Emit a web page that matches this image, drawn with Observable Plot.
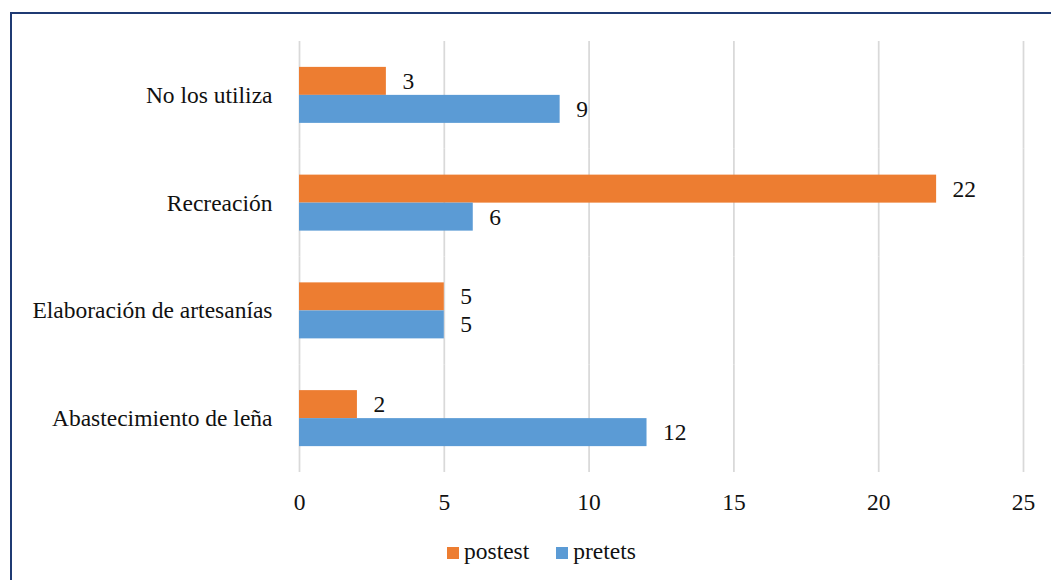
<!DOCTYPE html>
<html>
<head>
<meta charset="utf-8">
<script src="https://cdn.jsdelivr.net/npm/d3@7"></script>
<script src="https://cdn.jsdelivr.net/npm/@observablehq/plot@0.6"></script>
<style>
  html, body { margin: 0; padding: 0; background: #fff; }
  #wrap { position: relative; width: 1051px; height: 580px; overflow: hidden; background: #fff; }
  #frame { position: absolute; left: 10px; top: 12px; width: 1200px; height: 700px; border-left: 2px solid #1f3a73; border-top: 2px solid #1f3a73; }
  #chart { position: absolute; left: 0; top: 0; }
  #legend { position: absolute; left: 447px; top: 538px; height: 26px; line-height: 26px; font-family: "Times New Roman", Times, "Liberation Serif", "Nimbus Roman", "Noto Serif", "DejaVu Serif", FreeSerif, serif; font-size: 23.5px; color: #111; white-space: nowrap; }
  #legend .item { display: inline-block; margin-right: 27px; }
  #legend .sw { display: inline-block; width: 12px; height: 12px; margin-right: 5px; vertical-align: middle; position: relative; top: -1px; }
  #chart svg text { font-family: "Times New Roman", Times, "Liberation Serif", "Nimbus Roman", "Noto Serif", "DejaVu Serif", FreeSerif, serif !important; }
</style>
</head>
<body>
<div id="wrap">
  <div id="frame"></div>
  <div id="chart"></div>
  <div id="legend"></div>
</div>
<script>
const categories = ["No los utiliza", "Recreación", "Elaboración de artesanías", "Abastecimiento de leña"];
const series = ["postest", "pretets"];
const postest = [3, 22, 5, 2];
const pretets = [9, 6, 5, 12];
const colors = ["#ED7D31", "#5B9BD5"];
const xTicks = [0, 5, 10, 15, 20, 25];

const data = [];
categories.forEach((c, i) => {
  data.push({cat: c, series: "postest", value: postest[i]});
  data.push({cat: c, series: "pretets", value: pretets[i]});
});

const chart = Plot.plot({
  width: 1051,
  height: 520,
  marginTop: 41,
  marginBottom: 48,
  marginLeft: 299,
  marginRight: 28,
  style: {fontFamily: "'Times New Roman', Times, 'Liberation Serif', serif", fontSize: "23.5px", color: "#111", background: "transparent", overflow: "visible"},
  x: {domain: [0, 25], ticks: xTicks, tickSize: 0, tickPadding: 21, label: null},
  y: {domain: series, axis: null, paddingInner: 0, paddingOuter: 0.924, round: false},
  fy: {domain: categories, padding: 0, round: false, axis: "left", tickSize: 0, tickPadding: 27, label: null},
  color: {domain: series, range: colors},
  marks: [
    Plot.gridX(xTicks, {stroke: "#d9d9d9", strokeOpacity: 1, strokeWidth: 1.75}),
    Plot.barX(data, {x: "value", y: "series", fy: "cat", fill: "series"}),
    Plot.text(data, {x: "value", y: "series", fy: "cat", text: d => String(d.value), textAnchor: "start", dx: 16, fill: "#111"})
  ]
});
document.getElementById("chart").appendChild(chart);

const legend = document.getElementById("legend");
series.forEach((s, i) => {
  const item = document.createElement("span");
  item.className = "item";
  const sw = document.createElement("span");
  sw.className = "sw";
  sw.style.background = colors[i];
  item.appendChild(sw);
  item.appendChild(document.createTextNode(s));
  legend.appendChild(item);
});
</script>
</body>
</html>
